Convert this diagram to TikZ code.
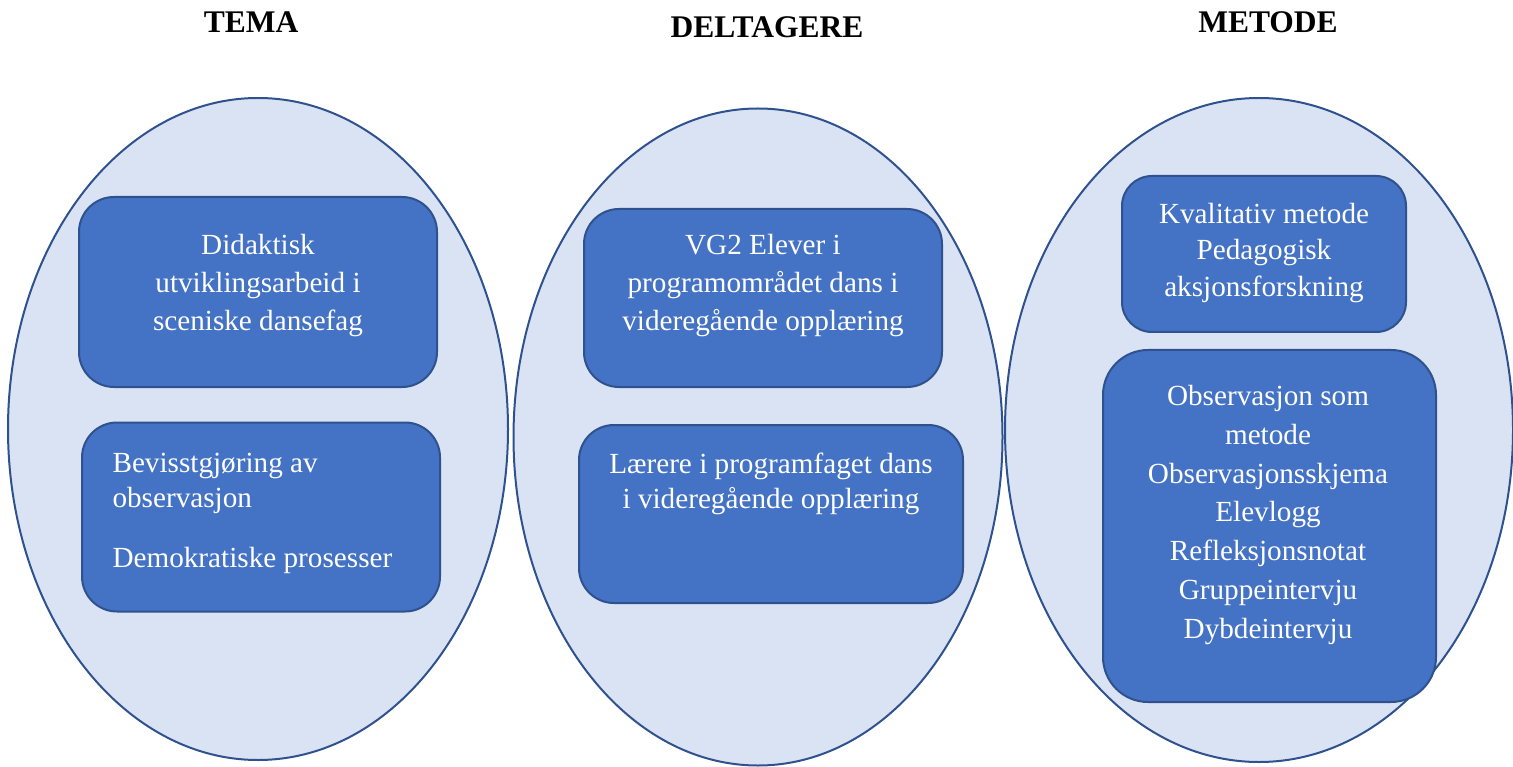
\documentclass[tikz,border=0pt]{standalone}
\usepackage{fontspec}
\setmainfont{Liberation Serif}
\usetikzlibrary{
    shapes.geometric,
    positioning
}
\definecolor{circle fill}{HTML}{DAE3F3}
\definecolor{shape line}{HTML}{2F528F}
\definecolor{box fill}{HTML}{4472C4}
\tikzset{
    % Colors
    group color/.style={fill=circle fill,draw=shape line},
    item color/.style={fill=box fill,draw=shape line},
    %
    % Shapes
    group/.style={group color,ellipse,line width=2pt,inner sep=0pt},
    item/.style={item color,rectangle,line width=2pt,inner sep=0pt},
    %
    % Texts
    heading/.style={font=\fontsize{31.5}{37}\selectfont\bfseries},
    itemtext/.style={text=white,align=center,font=\fontsize{29.2}{38}\selectfont}
}

\begin{document}
\begin{tikzpicture}[x=1pt,y=-1pt]
        \useasboundingbox (0,0) rectangle (1513,767);
        \node[heading] (tema) at (251,22) {TEMA};
        \node[heading] (deltagere) at (767,27) {DELTAGERE};
        \node[heading] (metode) at (1268,22) {METODE};
        
        \node[group,minimum width=500pt,minimum height=662pt] (tgroup) at (258,429) {};
        \node[group,minimum width=489pt,minimum height=657pt] (dgroup) at (758,437) {};
        \node[group,minimum width=508pt,minimum height=664pt] (mgroup) at (1259,430) {};
        
        % Tema
        \node[item,rounded corners=35pt,minimum width=358pt,minimum height=190pt] (tbox1) at (258,292) {};
        \node[itemtext] (ttext1) at (258,286) {Didaktisk\\utviklingsarbeid i\\sceniske dansefag};
        \node[item,rounded corners=35pt,minimum width=358pt,minimum height=189pt] (tbox2) at (261,517) {};
        \node[itemtext,align=left,anchor=west,font=\fontsize{29.2}{35}\selectfont] (ttext2) at (109,513) {Bevisstgjøring av\\observasjon\\[25pt]Demokratiske prosesser};
        
        % Deltagere
        \node[item,rounded corners=35pt,minimum width=358pt,minimum height=178pt] (dbox1) at (763,298) {};
        \node[itemtext] (dtext1) at (763,286) {VG2 Elever i\\programområdet dans i\\videregående opplæring};
        \node[item,rounded corners=35pt,minimum width=384pt,minimum height=178pt] (dbox2) at (771,514) {};
        \node[itemtext,font=\fontsize{29.2}{35}\selectfont] (dtext2) at (771,484) {Lærere i programfaget dans\\i videregående opplæring};
        
        % Metode
        \node[item,rounded corners=30pt,minimum width=284pt,minimum height=156pt] (mbox1) at (1264,254) {};
        \node[itemtext,font=\fontsize{29.2}{36.5}\selectfont] (mtext1) at (1264,253) {Kvalitativ metode\\Pedagogisk\\aksjonsforskning};
        \node[item,rounded corners=45pt,minimum width=333pt,minimum height=352pt] (mbox2) at (1269.5,526) {};
        \node[itemtext,font=\fontsize{29.2}{38.7}\selectfont] (mtext2) at (1268,515) {Observasjon som\\metode\\Observasjonsskjema\\Elevlogg\\Refleksjonsnotat\\Gruppeintervju\\Dybdeintervju};
    \end{tikzpicture}
\end{document}
